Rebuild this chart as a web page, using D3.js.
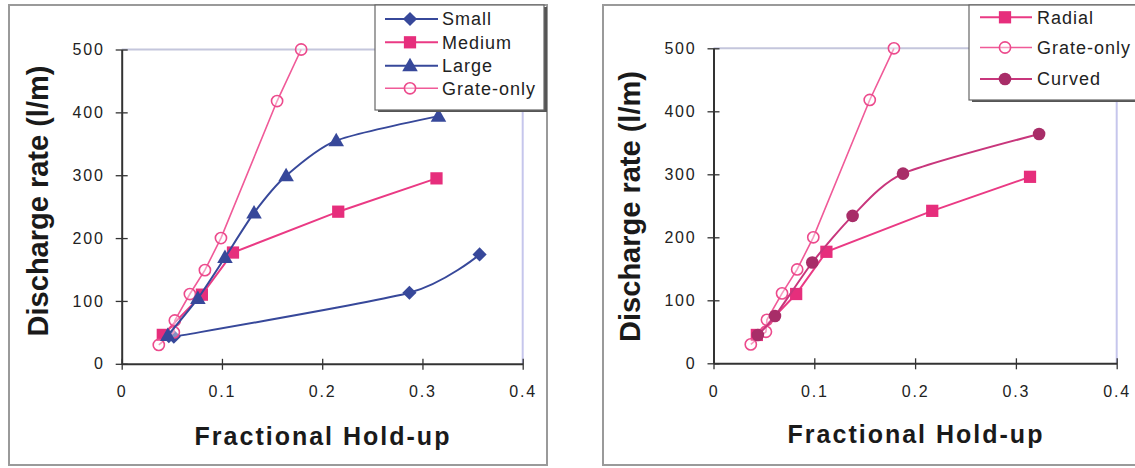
<!DOCTYPE html>
<html>
<head>
<meta charset="utf-8">
<script src="https://d3js.org/d3.v7.min.js"></script>
<style>
body{margin:0; background:#fff;}
svg{display:block; font-family:"Liberation Sans", Arial, sans-serif;}
</style>
</head>
<body>
<script>
// axis ticks
var xTicks = [0, 0.1, 0.2, 0.3, 0.4];
var yTicks = [0, 100, 200, 300, 400, 500];

// left chart: particle size
var smallX = [0.047, 0.052, 0.287, 0.357];
var smallY = [44, 43, 113, 174];
var mediumX = [0.041, 0.080, 0.111, 0.216, 0.314];
var mediumY = [46, 110, 177, 242, 295];
var largeX = [0.046, 0.076, 0.103, 0.132, 0.164, 0.214, 0.316];
var largeY = [45, 104, 169, 240, 299, 355, 394];
var grateX = [0.037, 0.052, 0.053, 0.068, 0.083, 0.099, 0.155, 0.179];
var grateY = [30, 50, 69, 111, 149, 200, 418, 500];

// right chart: grate shape
var radialX = [0.043, 0.082, 0.112, 0.217, 0.314];
var radialY = [45, 110, 177, 242, 296];
var curvedX = [0.044, 0.061, 0.098, 0.138, 0.188, 0.323];
var curvedY = [45, 75, 160, 234, 301, 364];

var blue = "#37489a", pink = "#ea3a84", grateCol = "#f05a98",
    curvedLine = "#c8367c", curvedDot = "#a82d68";

var svg = d3.select("body").append("svg").attr("width", 1135).attr("height", 468);

function zip(xs, ys){ return xs.map(function(x, i){ return [x, ys[i]]; }); }

function marker(sel, type, color){
  if(type=="diamond"){
    sel.append("path").attr("d", d3.symbol(d3.symbolSquare, 100)()).attr("fill", color).attr("transform", "rotate(45)");
  } else if(type=="square"){
    sel.append("path").attr("d", d3.symbol(d3.symbolSquare, 150)()).attr("fill", color);
  } else if(type=="triangle"){
    sel.append("path").attr("d", d3.symbol(d3.symbolTriangle, 105)()).attr("fill", color).attr("transform", "translate(0,1)");
  } else if(type=="open"){
    sel.append("circle").attr("r", 5.6).attr("fill", "#fff").attr("fill-opacity", 0.4).attr("stroke", color).attr("stroke-width", 1.6);
  } else {
    sel.append("circle").attr("r", 6.3).attr("fill", color);
  }
}

function chart(opt){
  var g = svg.append("g");
  g.append("rect").attr("x", opt.frame[0]).attr("y", opt.frame[1])
    .attr("width", opt.frame[2]-opt.frame[0]).attr("height", opt.frame[3]-opt.frame[1])
    .attr("fill", "none").attr("stroke", "#9a9a9a").attr("stroke-width", 2);

  var x = d3.scaleLinear().domain([0, 0.4]).range([opt.left, opt.right]);
  var y = d3.scaleLinear().domain([0, 500]).range([opt.bottom, opt.top]);

  // plot area border (top and right)
  g.append("line").attr("x1", x(0)).attr("x2", x(0.4)).attr("y1", y(500)).attr("y2", y(500))
    .attr("stroke", "#c4c6dc").attr("stroke-width", 2);
  g.append("line").attr("x1", x(0.4)).attr("x2", x(0.4)).attr("y1", y(500)).attr("y2", y(0))
    .attr("stroke", "#c6c6ec").attr("stroke-width", 2);

  var xa = g.append("g").attr("transform", "translate(0," + y(0) + ")")
    .call(d3.axisBottom(x).tickValues(xTicks).tickSizeInner(6).tickSizeOuter(0).tickPadding(16)
      .tickFormat(function(d){ return d==0 ? "0" : d3.format(".1f")(d); }));
  var ya = g.append("g").attr("transform", "translate(" + x(0) + ",0)")
    .call(d3.axisLeft(y).tickValues(yTicks).tickSizeInner(6).tickSizeOuter(0).tickPadding(14));
  [xa, ya].forEach(function(a){
    a.select(".domain").attr("stroke", "#333").attr("stroke-width", 2);
    a.selectAll(".tick line").attr("stroke", "#333").attr("stroke-width", 1.3);
    a.selectAll("text").attr("font-size", 16).attr("fill", "#222").attr("letter-spacing", "1.8px")
      .attr("font-family", "Liberation Sans, Arial, sans-serif");
  });
  xa.selectAll(".tick line").attr("y1", -5);
  ya.selectAll(".tick line").attr("x2", 6).attr("x1", -6);
  ya.selectAll("text").attr("dx", 3);

  g.append("text").attr("transform", "translate(" + opt.ytx + "," + opt.yty + ") rotate(-90)")
    .attr("text-anchor", "middle").attr("font-size", 29).attr("font-weight", "bold").attr("fill", "#1a1a1a")
    .text("Discharge rate (l/m)");
  g.append("text").attr("x", opt.xtx).attr("y", opt.xty).attr("text-anchor", "middle")
    .attr("font-size", 25).attr("font-weight", "bold").attr("letter-spacing", "2px").attr("fill", "#1a1a1a")
    .text("Fractional Hold-up");

  opt.series.forEach(function(s){
    var pts = zip(s.x, s.y);
    var line = d3.line().x(function(d){ return x(d[0]); }).y(function(d){ return y(d[1]); });
    if(s.smooth) line.curve(d3.curveCardinal.tension(0.3));
    g.append("path").attr("d", line(pts)).attr("fill", "none").attr("stroke", s.line)
      .attr("stroke-width", s.width);
    g.selectAll(null).data(pts).enter().append("g")
      .attr("transform", function(d){ return "translate(" + x(d[0]) + "," + y(d[1]) + ")"; })
      .each(function(){ marker(d3.select(this), s.type, s.dot); });
  });

  // legend
  var L = opt.legend;
  g.append("rect").attr("x", L.x0 + 3).attr("y", L.y0 + 2).attr("width", L.x1 - L.x0).attr("height", L.y1 - L.y0)
    .attr("fill", "#555");
  g.append("rect").attr("x", L.x0).attr("y", L.y0).attr("width", L.x1 - L.x0).attr("height", L.y1 - L.y0)
    .attr("fill", "#fff").attr("stroke", "#666").attr("stroke-width", 1.2);
  opt.series.slice().sort(function(a, b){ return a.order - b.order; }).forEach(function(s, i){
    var ry = L.rows[i];
    g.append("line").attr("x1", L.l0).attr("x2", L.l1).attr("y1", ry).attr("y2", ry)
      .attr("stroke", s.line).attr("stroke-width", s.width);
    var m = g.append("g").attr("transform", "translate(" + L.m + "," + ry + ")");
    marker(m, s.type, s.dot);
    g.append("text").attr("x", L.t).attr("y", ry).attr("dy", "0.36em").attr("font-size", 18)
      .attr("letter-spacing", "1px").attr("fill", "#222").text(s.name);
  });
}

chart({
  frame: [9, 5, 547, 465],
  left: 121.7, right: 522.7, top: 49.5, bottom: 363.8,
  ytx: 48, yty: 201, xtx: 323, xty: 445,
  series: [
    {name: "Small", x: smallX, y: smallY, type: "diamond", line: blue, dot: blue, width: 2, smooth: true, order: 0},
    {name: "Medium", x: mediumX, y: mediumY, type: "square", line: pink, dot: "#e62e7c", width: 2, smooth: false, order: 1},
    {name: "Grate-only", x: grateX, y: grateY, type: "open", line: grateCol, dot: "#ec4a8c", width: 1.6, smooth: false, order: 3},
    {name: "Large", x: largeX, y: largeY, type: "triangle", line: blue, dot: blue, width: 2, smooth: true, order: 2}
  ],
  legend: {x0: 375, y0: 5, x1: 544, y1: 110, rows: [19, 42.3, 65.7, 88.3], l0: 385, l1: 438, m: 410, t: 442}
});

chart({
  frame: [603, 5, 1145, 465],
  left: 713.5, right: 1116.7, top: 48.3, bottom: 363.3,
  ytx: 640, yty: 206.5, xtx: 916, xty: 443,
  series: [
    {name: "Radial", x: radialX, y: radialY, type: "square", line: pink, dot: "#e62e7c", width: 2, smooth: false, order: 0},
    {name: "Grate-only", x: grateX, y: grateY, type: "open", line: grateCol, dot: "#ec4a8c", width: 1.6, smooth: false, order: 1},
    {name: "Curved", x: curvedX, y: curvedY, type: "dot", line: curvedLine, dot: curvedDot, width: 2, smooth: true, order: 2}
  ],
  legend: {x0: 969, y0: 5, x1: 1145, y1: 100, rows: [17.3, 47.5, 79], l0: 980, l1: 1032, m: 1005, t: 1037}
});
</script>
</body>
</html>
